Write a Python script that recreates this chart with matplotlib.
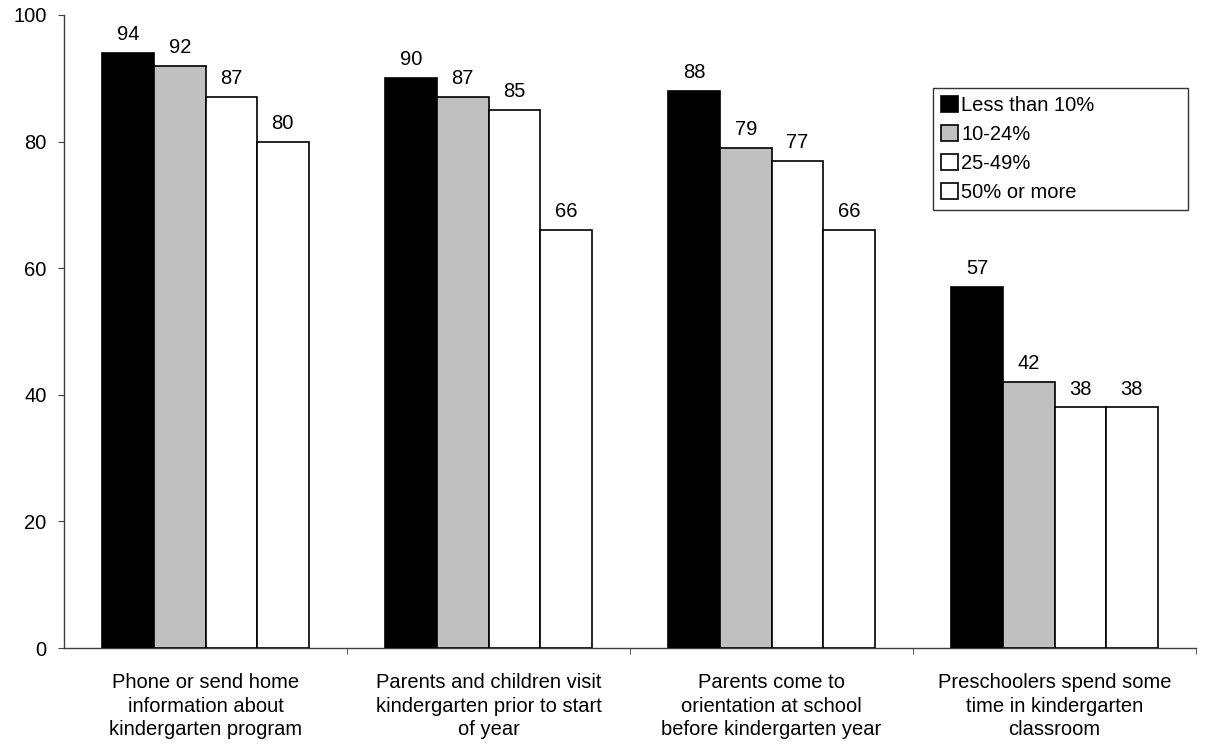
import matplotlib
matplotlib.use("Agg")
import matplotlib.pyplot as plt
import numpy as np

plt.rcParams['font.family'] = ['Liberation Sans', 'DejaVu Sans']

categories = [
    "Phone or send home\ninformation about\nkindergarten program",
    "Parents and children visit\nkindergarten prior to start\nof year",
    "Parents come to\norientation at school\nbefore kindergarten year",
    "Preschoolers spend some\ntime in kindergarten\nclassroom",
]
series_names = ["Less than 10%", "10-24%", "25-49%", "50% or more"]
series_values = [
    [94, 90, 88, 57],
    [92, 87, 79, 42],
    [87, 85, 77, 38],
    [80, 66, 66, 38],
]
colors = ["#000000", "#c0c0c0", "#ffffff", "#ffffff"]

FS = 14.5
W, H = 1205, 744
fig = plt.figure(figsize=(W / 100, H / 100), dpi=100)
ax_l, ax_r, ax_t, ax_b = 64, 1196, 15, 648
ax = fig.add_axes([ax_l / W, 1 - ax_b / H, (ax_r - ax_l) / W, (ax_b - ax_t) / H])

x = np.arange(len(categories))
bw = 0.182
offsets = (np.arange(len(series_names)) - 1.5) * bw
for vals, name, col, off in zip(series_values, series_names, colors, offsets):
    bars = ax.bar(x + off, vals, width=bw, color=col, edgecolor="black",
                  linewidth=1.2, label=name, zorder=3)
    for b, v in zip(bars, vals):
        ax.text(b.get_x() + b.get_width() / 2, v + 1.4, f"{v}",
                ha="center", va="bottom", fontsize=FS)

ax.set_xlim(-0.5, len(categories) - 0.5)
ax.set_ylim(0, 100)
ax.set_yticks(np.arange(0, 101, 20))
ax.tick_params(axis="y", direction="out", length=4.5, labelsize=FS, pad=8, color="#404040")

ax.set_xticks(x)
ax.set_xticklabels(categories, fontsize=FS, linespacing=1.3)
ax.tick_params(axis="x", which="major", length=0, pad=18)
ax.set_xticks(np.arange(0.5, len(categories), 1.0), minor=True)
ax.tick_params(axis="x", which="minor", direction="out", length=4.5, color="#404040")

for s in ["top", "right"]:
    ax.spines[s].set_visible(False)
for s in ["left", "bottom"]:
    ax.spines[s].set_color("#404040")
    ax.spines[s].set_linewidth(1.0)

# legend box spans x 933..1188, y 88..205 (pixels)
lx0 = (933 - ax_l) / (ax_r - ax_l)
lw = (1188 - 933) / (ax_r - ax_l)
ly1 = 1 - (88 - ax_t) / (ax_b - ax_t)
lh = (205 - 88) / (ax_b - ax_t)
leg = ax.legend(loc="upper left", bbox_to_anchor=(lx0, ly1 - lh, lw, lh), mode="expand",
                fontsize=FS, frameon=True, fancybox=False, edgecolor="black",
                handlelength=0.85, handleheight=0.85, handletextpad=0.15,
                labelspacing=0.5, borderpad=0.4, borderaxespad=0)
leg.get_frame().set_linewidth(1.0)

fig.savefig("out.png", dpi=100)
